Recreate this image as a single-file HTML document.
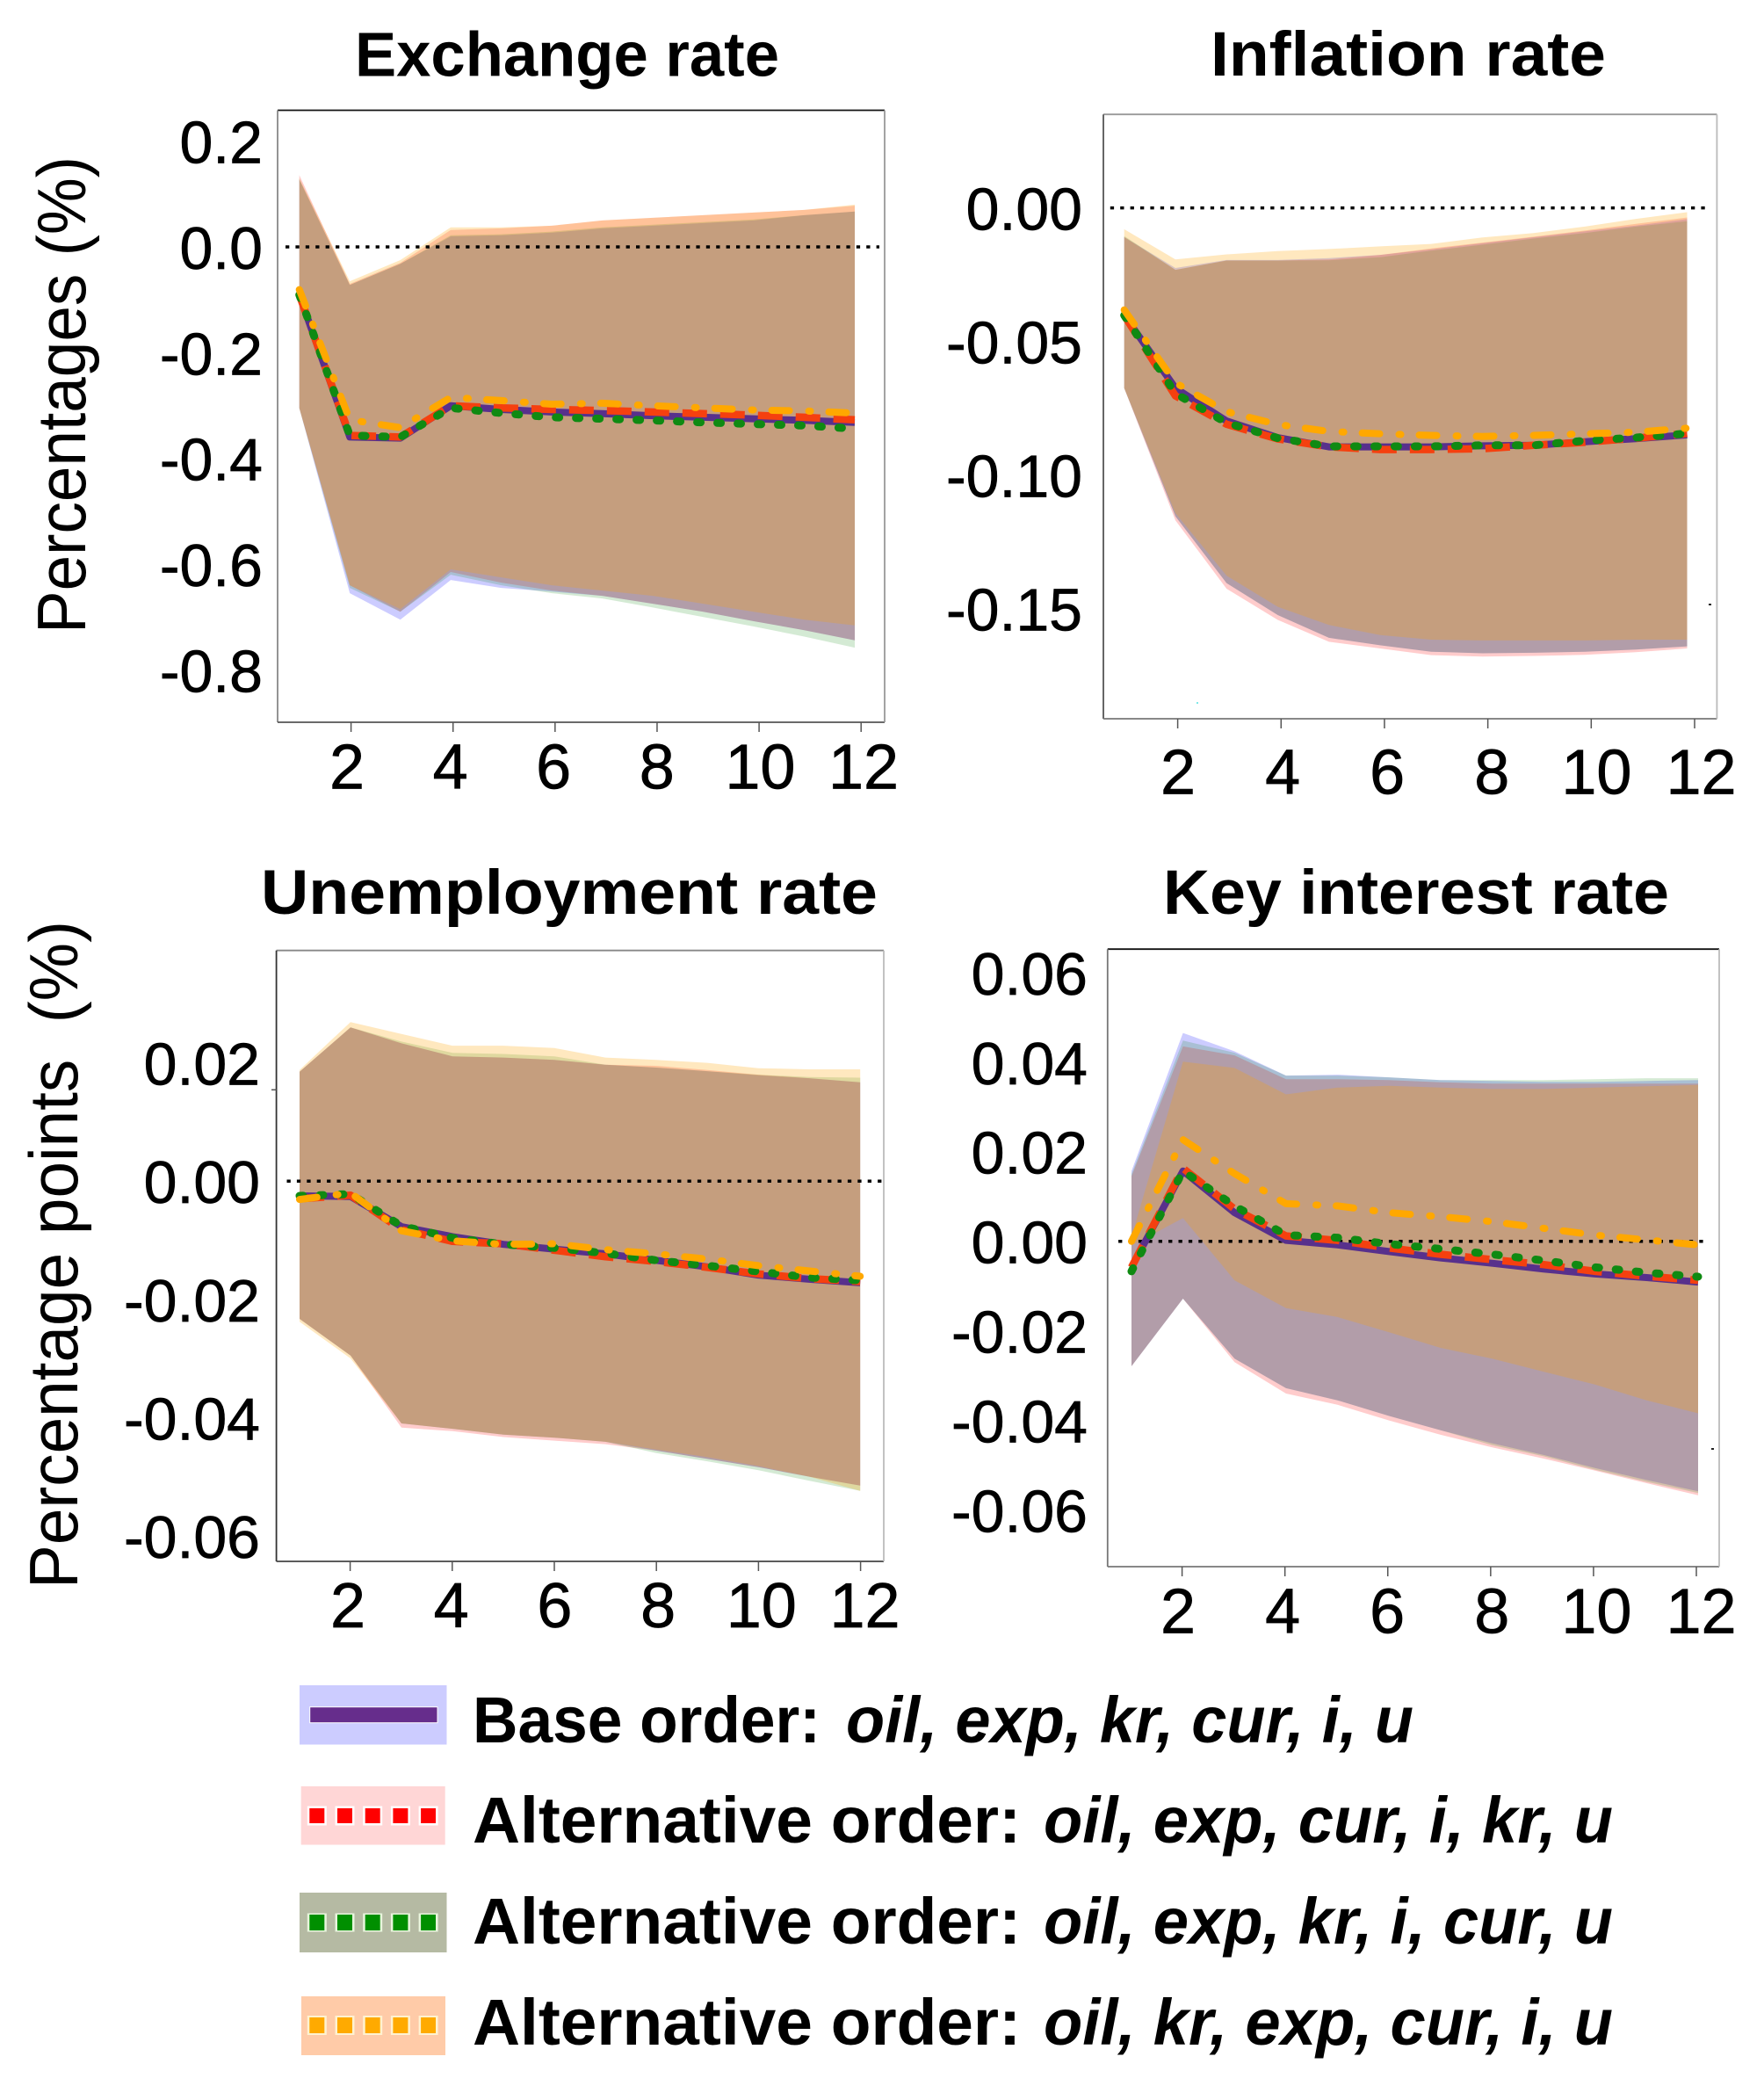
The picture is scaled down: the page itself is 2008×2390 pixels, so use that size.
<!DOCTYPE html>
<html lang="en">
<head>
<meta charset="utf-8">
<title>Impulse responses under alternative orderings</title>
<style>
html,body{margin:0;padding:0;background:#fff;}
svg{display:block;}
text{font-family:"Liberation Sans",sans-serif;fill:#000;}
</style>
</head>
<body>
<svg id="figure" xmlns="http://www.w3.org/2000/svg" width="2008" height="2390" viewBox="0 0 2008 2390">
  <rect x="0" y="0" width="2008" height="2390" fill="#fff"/>
  <g id="panels"></g>

  <g>
    <text transform="translate(97,721) rotate(-90)" font-size="78" textLength="543" lengthAdjust="spacingAndGlyphs">Percentages (%)</text>
    <text transform="translate(88,1808) rotate(-90)" font-size="78" textLength="760" lengthAdjust="spacingAndGlyphs" xml:space="preserve">Percentage points  (%)</text>
  </g>

  <g font-size="74" font-weight="700">
    <g>
      <rect x="341" y="1918" width="167.5" height="67.5" fill="#ccccff"/>
      <rect x="352.7" y="1942.7" width="145.3" height="18" fill="#662d8c" stroke="#fff" stroke-width="1"/>
      <text x="538" y="1983" textLength="396" lengthAdjust="spacingAndGlyphs">Base order:</text>
      <text x="963" y="1983" font-style="italic" textLength="646" lengthAdjust="spacingAndGlyphs">oil, exp, kr, cur, i, u</text>
    </g>
    <g>
      <rect x="342.7" y="2033" width="164" height="66.5" fill="#ffd6d6"/>
      <line x1="349.8" x2="498.6" y1="2066.5" y2="2066.5" stroke="#fff" stroke-width="22" stroke-dasharray="22 9.7"/>
      <line x1="352.3" x2="496" y1="2066.5" y2="2066.5" stroke="#ff0000" stroke-width="17" stroke-dasharray="17 14.7"/>
      <text x="538" y="2097" textLength="624" lengthAdjust="spacingAndGlyphs">Alternative order:</text>
      <text x="1188" y="2097" font-style="italic" textLength="648" lengthAdjust="spacingAndGlyphs">oil, exp, cur, i, kr, u</text>
    </g>
    <g>
      <rect x="341" y="2154" width="167.5" height="68" fill="#b5baa3"/>
      <line x1="349.8" x2="498.6" y1="2188" y2="2188" stroke="#e8f5dc" stroke-width="21" stroke-dasharray="22 9.7"/>
      <line x1="352.3" x2="496" y1="2188" y2="2188" stroke="#008f00" stroke-width="18" stroke-dasharray="17 14.7"/>
      <text x="538" y="2212" textLength="624" lengthAdjust="spacingAndGlyphs">Alternative order:</text>
      <text x="1188" y="2212" font-style="italic" textLength="648" lengthAdjust="spacingAndGlyphs">oil, exp, kr, i, cur, u</text>
    </g>
    <g>
      <rect x="343" y="2272" width="164" height="67" fill="#ffcba8"/>
      <line x1="349.8" x2="498.6" y1="2305" y2="2305" stroke="#fff2d0" stroke-width="22" stroke-dasharray="22 9.7"/>
      <line x1="352.3" x2="496" y1="2305" y2="2305" stroke="#ffaa00" stroke-width="18" stroke-dasharray="17 14.7"/>
      <text x="538" y="2327" textLength="624" lengthAdjust="spacingAndGlyphs">Alternative order:</text>
      <text x="1188" y="2327" font-style="italic" textLength="648" lengthAdjust="spacingAndGlyphs">oil, kr, exp, cur, i, u</text>
    </g>
  </g>

  <g>
    <rect x="1945" y="687" width="3" height="2" fill="#222"/>
    <rect x="1948" y="1648" width="3" height="2" fill="#222"/>
    <rect x="1362" y="799" width="2" height="2" fill="#7fe8e8"/>
  </g>
</svg>

<script>
// Shared horizon and axis labels
const horizons = [1,2,3,4,5,6,7,8,9,10,11,12];
const xTickLabels = ["2","4","6","8","10","12"];
const exchangeYTicks = ["0.2","0.0","-0.2","-0.4","-0.6","-0.8"];
const inflationYTicks = ["0.00","-0.05","-0.10","-0.15"];
const unemploymentYTicks = ["0.02","0.00","-0.02","-0.04","-0.06"];
const interestYTicks = ["0.06","0.04","0.02","0.00","-0.02","-0.04","-0.06"];

// Exchange rate
const exchangeBaseLine = [-0.0906,-0.3596,-0.3616,-0.3005,-0.3074,-0.3123,-0.3153,-0.3192,-0.3222,-0.3251,-0.3281,-0.332];
const exchangeRedLine = [-0.0906,-0.3567,-0.3596,-0.3005,-0.3044,-0.3074,-0.3094,-0.3123,-0.3153,-0.3182,-0.3222,-0.3271];
const exchangeGreenLine = [-0.0906,-0.3567,-0.3596,-0.3044,-0.3143,-0.3222,-0.3251,-0.3281,-0.332,-0.335,-0.3379,-0.3438];
const exchangeOrangeLine = [-0.0808,-0.3271,-0.3419,-0.2847,-0.2906,-0.2975,-0.2956,-0.3005,-0.3044,-0.3084,-0.3103,-0.3143];
const exchangeBlueUpper = [0.128,-0.072,-0.032,0.02,0.022,0.027,0.035,0.04,0.045,0.05,0.06,0.067];
const exchangeBlueLower = [-0.305,-0.655,-0.705,-0.63,-0.645,-0.652,-0.66,-0.675,-0.69,-0.708,-0.725,-0.744];
const exchangeRedUpper = [0.136,-0.07,-0.03,0.032,0.035,0.04,0.05,0.055,0.06,0.065,0.07,0.078];
const exchangeRedLower = [-0.305,-0.64,-0.69,-0.615,-0.635,-0.65,-0.66,-0.675,-0.69,-0.708,-0.725,-0.744];
const exchangeGreenUpper = [0.128,-0.072,-0.032,0.022,0.024,0.029,0.037,0.042,0.047,0.052,0.06,0.067];
const exchangeGreenLower = [-0.305,-0.645,-0.69,-0.62,-0.64,-0.655,-0.665,-0.682,-0.7,-0.718,-0.737,-0.758];
const exchangeOrangeUpper = [0.13,-0.065,-0.025,0.037,0.037,0.04,0.05,0.055,0.06,0.065,0.07,0.08];
const exchangeOrangeLower = [-0.305,-0.64,-0.685,-0.61,-0.625,-0.64,-0.65,-0.66,-0.675,-0.69,-0.705,-0.716];

// Inflation rate
const inflationBaseLine = [-0.0402,-0.0675,-0.0798,-0.086,-0.0895,-0.0895,-0.0895,-0.0891,-0.0889,-0.0876,-0.0864,-0.085];
const inflationRedLine = [-0.0402,-0.0704,-0.081,-0.0865,-0.0895,-0.0905,-0.0905,-0.0902,-0.0889,-0.0878,-0.0862,-0.0845];
const inflationGreenLine = [-0.0402,-0.0695,-0.0805,-0.0862,-0.0893,-0.0893,-0.0893,-0.0889,-0.0889,-0.0872,-0.086,-0.0845];
const inflationOrangeLine = [-0.0382,-0.0655,-0.0763,-0.0811,-0.0837,-0.0846,-0.0852,-0.0856,-0.0852,-0.0846,-0.084,-0.0825];
const inflationBlueUpper = [-0.0109,-0.0225,-0.0195,-0.0195,-0.0188,-0.0176,-0.0155,-0.0132,-0.011,-0.0088,-0.0066,-0.0042];
const inflationBlueLower = [-0.0675,-0.1155,-0.1405,-0.1525,-0.161,-0.1638,-0.1662,-0.1668,-0.1666,-0.1662,-0.1654,-0.1642];
const inflationRedUpper = [-0.0109,-0.0232,-0.0197,-0.0197,-0.0193,-0.0176,-0.0152,-0.013,-0.0108,-0.0085,-0.006,-0.0036];
const inflationRedLower = [-0.0675,-0.117,-0.1426,-0.1543,-0.1625,-0.165,-0.1675,-0.168,-0.1678,-0.1674,-0.1664,-0.165];
const inflationGreenUpper = [-0.0105,-0.0232,-0.0197,-0.0197,-0.0196,-0.0185,-0.016,-0.0138,-0.0115,-0.0094,-0.007,-0.005];
const inflationGreenLower = [-0.0675,-0.1155,-0.1405,-0.1525,-0.161,-0.1638,-0.1662,-0.1668,-0.1666,-0.1662,-0.1654,-0.1642];
const inflationOrangeUpper = [-0.008,-0.0193,-0.0174,-0.0162,-0.0154,-0.0144,-0.0135,-0.0111,-0.0094,-0.007,-0.0041,-0.0016];
const inflationOrangeLower = [-0.0675,-0.1143,-0.1377,-0.1494,-0.1562,-0.16,-0.1617,-0.162,-0.162,-0.162,-0.1617,-0.1617];

// Unemployment rate
const unemploymentBaseLine = [-0.0025,-0.0026,-0.0077,-0.0094,-0.0107,-0.0115,-0.0123,-0.0134,-0.0145,-0.0159,-0.0166,-0.0172];
const unemploymentRedLine = [-0.003,-0.0024,-0.0082,-0.0102,-0.0106,-0.0117,-0.0128,-0.0136,-0.0146,-0.0157,-0.0165,-0.017];
const unemploymentGreenLine = [-0.0025,-0.0022,-0.0076,-0.0096,-0.0107,-0.0113,-0.0122,-0.0134,-0.0143,-0.0153,-0.0163,-0.0168];
const unemploymentOrangeLine = [-0.0031,-0.002,-0.0084,-0.0101,-0.0107,-0.0106,-0.0116,-0.0123,-0.0132,-0.0143,-0.0152,-0.0161];
const unemploymentBlueUpper = [0.0185,0.026,0.0233,0.0211,0.0209,0.0205,0.0197,0.0192,0.0186,0.0179,0.0174,0.0167];
const unemploymentBlueLower = [-0.0233,-0.0295,-0.041,-0.0419,-0.0429,-0.0434,-0.0441,-0.0456,-0.047,-0.0484,-0.05,-0.0515];
const unemploymentRedUpper = [0.0185,0.026,0.0233,0.0211,0.0209,0.0205,0.0197,0.0195,0.0188,0.018,0.0174,0.0167];
const unemploymentRedLower = [-0.0233,-0.0295,-0.0417,-0.0423,-0.0433,-0.0439,-0.0445,-0.0456,-0.047,-0.0484,-0.05,-0.0515];
const unemploymentGreenUpper = [0.0185,0.026,0.0236,0.0217,0.0215,0.0211,0.0197,0.0192,0.0186,0.018,0.0176,0.0175];
const unemploymentGreenLower = [-0.0233,-0.0295,-0.041,-0.0419,-0.0429,-0.0434,-0.0441,-0.046,-0.0474,-0.0489,-0.0507,-0.0524];
const unemploymentOrangeUpper = [0.0188,0.0269,0.0249,0.0229,0.0229,0.0225,0.0209,0.0205,0.02,0.0191,0.0189,0.0189];
const unemploymentOrangeLower = [-0.0238,-0.03,-0.041,-0.0419,-0.0429,-0.0434,-0.0441,-0.0454,-0.0467,-0.0482,-0.05,-0.0524];

// Key interest rate
const interestBaseLine = [-0.0058,0.0157,0.0064,0.0002,-0.0008,-0.0023,-0.0037,-0.0049,-0.0062,-0.0073,-0.0081,-0.0091];
const interestRedLine = [-0.0058,0.0163,0.0072,0.0012,0.0002,-0.0015,-0.0029,-0.0041,-0.0052,-0.0067,-0.0078,-0.0087];
const interestGreenLine = [-0.0067,0.0157,0.0079,0.0014,0.0008,-0.0006,-0.0017,-0.0029,-0.0043,-0.0058,-0.007,-0.0079];
const interestOrangeLine = [0,0.0227,0.0151,0.0084,0.0079,0.0064,0.0055,0.0044,0.0029,0.0014,0.0003,-0.0008];
const interestBlueUpper = [0.0157,0.0465,0.0424,0.037,0.0372,0.0366,0.036,0.0358,0.0356,0.0356,0.0358,0.036];
const interestBlueLower = [-0.0279,-0.0128,-0.0262,-0.0328,-0.0355,-0.039,-0.0422,-0.0451,-0.0477,-0.0506,-0.0533,-0.0558];
const interestRedUpper = [0.0145,0.0435,0.0415,0.0362,0.0362,0.036,0.0355,0.0352,0.0352,0.0352,0.0352,0.0352];
const interestRedLower = [-0.0279,-0.0128,-0.027,-0.034,-0.0365,-0.04,-0.0432,-0.046,-0.0485,-0.0512,-0.054,-0.0567];
const interestGreenUpper = [0.015,0.0448,0.0421,0.037,0.037,0.0366,0.036,0.036,0.036,0.0362,0.0364,0.0364];
const interestGreenLower = [-0.0279,-0.0128,-0.0262,-0.0328,-0.0355,-0.039,-0.0422,-0.0455,-0.048,-0.051,-0.0537,-0.0562];
const interestOrangeUpper = [0.001,0.0401,0.0387,0.0328,0.0343,0.0347,0.0343,0.034,0.034,0.0343,0.0346,0.0349];
const interestOrangeLower = [-0.001,0.0052,-0.0087,-0.0149,-0.0169,-0.0203,-0.0238,-0.0262,-0.0291,-0.032,-0.0355,-0.0384];

// Series styling (order = draw order)
const seriesKeys = ["base","red","green","orange"];
const bandFill = {base:"rgb(0,0,255)",red:"rgb(255,0,0)",green:"rgb(0,128,0)",orange:"rgb(255,165,0)"};
const bandAlpha = {base:0.2,red:0.2,green:0.17,orange:0.25};
const lineColor = {base:"#58308c",red:"#f5400f",green:"#0f8a12",orange:"#ffa800"};
const lineWidth = {base:8,red:8.5,green:9,orange:8};
const lineDash = {base:"",red:"28 15",green:"4 19",orange:"20 22 2 21"};
const lineCap = {base:"butt",red:"butt",green:"round",orange:"round"};

const panels = [
  {id:"exchange-rate", title:"Exchange rate", titleX:404, titleY:86.5, titleW:483,
   frame:[316,1007,125.5,822], frameColors:["#111","#888","#555","#999"],
   dataX:[340.7,973], tickX:[399.6,980.2], labelX:[395,983], labelBaseline:897.7,
   zeroY:281, perUnit:601.7, zeroLine:[325,1001],
   yLabelRight:299, yTicks:exchangeYTicks,
   bands:{base:[exchangeBlueUpper,exchangeBlueLower],red:[exchangeRedUpper,exchangeRedLower],green:[exchangeGreenUpper,exchangeGreenLower],orange:[exchangeOrangeUpper,exchangeOrangeLower]},
   lines:{base:exchangeBaseLine,red:exchangeRedLine,green:exchangeGreenLine,orange:exchangeOrangeLine}},
  {id:"inflation-rate", title:"Inflation rate", titleX:1378, titleY:86, titleW:450,
   frame:[1256,1954.4,130.2,818], frameColors:["#999","#555","#777","#bbb"],
   dataX:[1279.7,1920.5], tickX:[1340.6,1929], labelX:[1341,1936.5], labelBaseline:903.6,
   zeroY:236.6, perUnit:3039, zeroLine:[1263.8,1944],
   yLabelRight:1232, yTicks:inflationYTicks,
   bands:{base:[inflationBlueUpper,inflationBlueLower],red:[inflationRedUpper,inflationRedLower],green:[inflationGreenUpper,inflationGreenLower],orange:[inflationOrangeUpper,inflationOrangeLower]},
   lines:{base:inflationBaseLine,red:inflationRedLine,green:inflationGreenLine,orange:inflationOrangeLine}},
  {id:"unemployment-rate", title:"Unemployment rate", titleX:297, titleY:1040, titleW:702,
   frame:[314.6,1006,1081.7,1777], frameColors:["#888","#333","#444","#bbb"],
   dataX:[341,979.2], tickX:[398.6,979.6], labelX:[396,984.5], labelBaseline:1852.2,
   zeroY:1344.2, perUnit:6728, zeroLine:[326.5,1003.5],
   yLabelRight:296, yTicks:unemploymentYTicks,
   bands:{base:[unemploymentBlueUpper,unemploymentBlueLower],red:[unemploymentRedUpper,unemploymentRedLower],green:[unemploymentGreenUpper,unemploymentGreenLower],orange:[unemploymentOrangeUpper,unemploymentOrangeLower]},
   lines:{base:unemploymentBaseLine,red:unemploymentRedLine,green:unemploymentGreenLine,orange:unemploymentOrangeLine}},
  {id:"key-interest-rate", title:"Key interest rate", titleX:1324, titleY:1040, titleW:576,
   frame:[1260.8,1957,1080.2,1783], frameColors:["#111","#777","#777","#bbb"],
   dataX:[1288,1933], tickX:[1345.6,1931], labelX:[1341,1936.5], labelBaseline:1858.6,
   zeroY:1412.7, perUnit:5098, zeroLine:[1273.1,1944],
   yLabelRight:1238, yTicks:interestYTicks,
   bands:{base:[interestBlueUpper,interestBlueLower],red:[interestRedUpper,interestRedLower],green:[interestGreenUpper,interestGreenLower],orange:[interestOrangeUpper,interestOrangeLower]},
   lines:{base:interestBaseLine,red:interestRedLine,green:interestGreenLine,orange:interestOrangeLine}}
];

const SVG_NS = "http://www.w3.org/2000/svg";
const root = document.getElementById("panels");

function make(tag, parent, attrs){
  const el = document.createElementNS(SVG_NS, tag);
  for (const k in attrs) el.setAttribute(k, attrs[k]);
  parent.appendChild(el);
  return el;
}

function drawPanel(p){
  const xScale = h => p.dataX[0] + (h - horizons[0]) * (p.dataX[1] - p.dataX[0]) / (horizons[horizons.length-1] - horizons[0]);
  const xTick = t => p.tickX[0] + (t - 2) * (p.tickX[1] - p.tickX[0]) / 10;
  const xLabel = t => p.labelX[0] + (t - 2) * (p.labelX[1] - p.labelX[0]) / 10;
  const yScale = v => p.zeroY - v * p.perUnit;

  const g = make("g", root, {});
  
  

  const title = make("text", g, {x:p.titleX, y:p.titleY, "font-size":71, "font-weight":700, textLength:p.titleW, lengthAdjust:"spacingAndGlyphs"});
  title.textContent = p.title;
  
  

  // bands
  seriesKeys.forEach(key => {
    const upper = p.bands[key][0], lower = p.bands[key][1];
    const top = horizons.map((h,i) => xScale(h).toFixed(1) + "," + yScale(upper[i]).toFixed(1));
    const bottom = horizons.map((h,i) => xScale(h).toFixed(1) + "," + yScale(lower[i]).toFixed(1)).reverse();
    const band = make("polygon", g, {points:top.concat(bottom).join(" "), fill:bandFill[key], "fill-opacity":bandAlpha[key]});
    
    
  });

  // frame
  const f = p.frame;
  const edges = [[f[0],f[2],f[1],f[2],p.frameColors[0],"top"],[f[0],f[2],f[0],f[3],p.frameColors[1],"left"],[f[0],f[3],f[1],f[3],p.frameColors[2],"bottom"],[f[1],f[2],f[1],f[3],p.frameColors[3],"right"]];
  edges.forEach(e => {
    const edge = make("line", g, {x1:e[0], y1:e[1], x2:e[2], y2:e[3], stroke:e[4], "stroke-width":1.8});
    
    
  });

  // x ticks and labels
  xTickLabels.forEach(lbl => {
    const t = Number(lbl);
    const tick = make("line", g, {x1:xTick(t), x2:xTick(t), y1:f[3], y2:f[3]+11, stroke:"#555", "stroke-width":1.5});
    
    
    const txt = make("text", g, {"font-size":72, "text-anchor":"middle", stroke:"#000", "stroke-width":0.7, x:xLabel(t), y:p.labelBaseline});
    txt.textContent = lbl;
    
    
  });

  // y labels
  p.yTicks.forEach(lbl => {
    const txt = make("text", g, {"font-size":68, "text-anchor":"end", stroke:"#000", "stroke-width":0.7, x:p.yLabelRight, y:yScale(parseFloat(lbl))+25});
    txt.textContent = lbl;
    
    
  });

  // zero reference
  const zero = make("line", g, {x1:p.zeroLine[0], x2:p.zeroLine[1], y1:yScale(0), y2:yScale(0), stroke:"#000", "stroke-width":3.5, "stroke-dasharray":"4.3 7.1"});
  
  

  // response lines
  seriesKeys.forEach(key => {
    const pts = horizons.map((h,i) => xScale(h).toFixed(1) + "," + yScale(p.lines[key][i]).toFixed(1)).join(" ");
    const line = make("polyline", g, {points:pts, fill:"none", stroke:lineColor[key], "stroke-width":lineWidth[key], "stroke-linejoin":"round", "stroke-linecap":lineCap[key]});
    if (lineDash[key]) line.setAttribute("stroke-dasharray", lineDash[key]);
    
    
  });
}

panels.forEach(drawPanel);

// stray tick on the unemployment panel
const strayTick = make("line", root, {x1:309, x2:314.6, y1:1240.3, y2:1240.3, stroke:"#555", "stroke-width":1.5});


</script>
</body>
</html>
